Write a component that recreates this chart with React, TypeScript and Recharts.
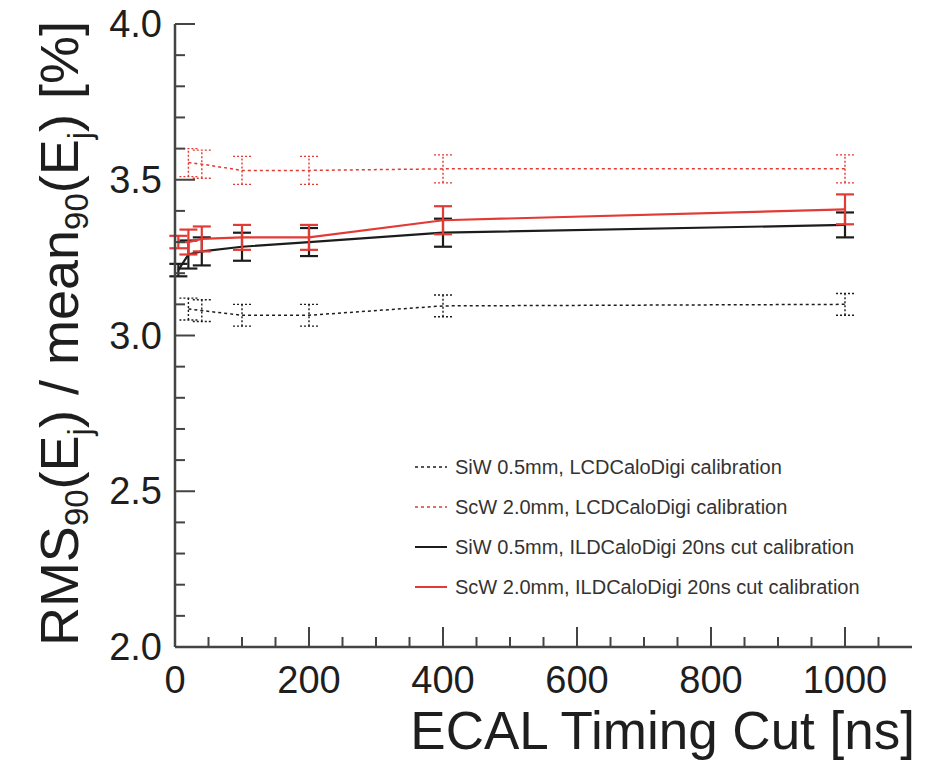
import React from "react";
import { LineChart, Line, XAxis, YAxis, ErrorBar, Legend, Label } from "recharts";

// timing cuts [ns]
const lcdCuts = [20, 40, 100, 200, 400, 1000];
const ildCuts = [5, 20, 40, 100, 200, 400, 1000];

// RMS90 / mean90 [%]
const siwLcd = [3.085, 3.08, 3.065, 3.065, 3.095, 3.1];
const siwLcdErr = [0.035, 0.035, 0.035, 0.035, 0.035, 0.035];
const scwLcd = [3.555, 3.55, 3.53, 3.53, 3.535, 3.535];
const scwLcdErr = [0.045, 0.045, 0.045, 0.045, 0.045, 0.045];
const siwIld = [3.21, 3.26, 3.27, 3.285, 3.3, 3.33, 3.355];
const siwIldErr = [0.02, 0.045, 0.045, 0.045, 0.045, 0.045, 0.04];
const scwIld = [3.3, 3.3, 3.31, 3.315, 3.315, 3.37, 3.405];
const scwIldErr = [0.02, 0.04, 0.04, 0.04, 0.04, 0.045, 0.048];

const xMajorTicks = [0, 200, 400, 600, 800, 1000];
const yMajorTicks = [2.0, 2.5, 3.0, 3.5, 4.0];

const seriesNames = [
  "SiW 0.5mm, LCDCaloDigi calibration",
  "ScW 2.0mm, LCDCaloDigi calibration",
  "SiW 0.5mm, ILDCaloDigi 20ns cut calibration",
  "ScW 2.0mm, ILDCaloDigi 20ns cut calibration",
];

const FONT = "'Liberation Sans', Arial, Helvetica, sans-serif";
const AXIS = "#444";
const TEXT = "#1e1e1e";
const BLACK = "#1c1c1c";
const RED = "#e23a35";

const toRows = (xs: number[], ys: number[], es: number[]) =>
  xs.map((x, i) => ({ x, y: ys[i], err: es[i] }));

const siwLcdData = toRows(lcdCuts, siwLcd, siwLcdErr);
const scwLcdData = toRows(lcdCuts, scwLcd, scwLcdErr);
const siwIldData = toRows(ildCuts, siwIld, siwIldErr);
const scwIldData = toRows(ildCuts, scwIld, scwIldErr);

const styles = [
  { color: BLACK, dash: "3 3", width: 1.5 },
  { color: RED, dash: "3 3", width: 1.5 },
  { color: BLACK, dash: undefined, width: 2.2 },
  { color: RED, dash: undefined, width: 2.2 },
];

const xTicks: number[] = [];
for (let v = 0; v <= 1050; v += 50) xTicks.push(v);
const yTicks: number[] = [];
for (let i = 20; i <= 40; i++) yTicks.push(i / 10);

const isYMajor = (v: number) => yMajorTicks.some((t) => Math.abs(t - v) < 1e-6);

const BottomTick = (props: any) => {
  const { x, y, payload } = props;
  const v = payload.value;
  const major = xMajorTicks.includes(v);
  return (
    <g>
      <line x1={x} x2={x} y1={y} y2={y - (major ? 20 : 10)} stroke={AXIS} strokeWidth={2} />
      {major && (
        <text x={x} y={y + 46} textAnchor="middle" fontSize={38} fontFamily={FONT} fill={TEXT}>
          {v}
        </text>
      )}
    </g>
  );
};

const TopTick = (props: any) => {
  const { x, y, payload } = props;
  const major = xMajorTicks.includes(payload.value);
  return <line x1={x} x2={x} y1={y} y2={y + (major ? 18 : 9)} stroke={AXIS} strokeWidth={2} />;
};

const LeftTick = (props: any) => {
  const { x, y, payload } = props;
  const v = payload.value;
  const major = isYMajor(v);
  return (
    <g>
      <line x1={x} x2={x + (major ? 20 : 10)} y1={y} y2={y} stroke={AXIS} strokeWidth={2} />
      {major && (
        <text x={x - 13} y={y + 13} textAnchor="end" fontSize={38} fontFamily={FONT} fill={TEXT}>
          {v.toFixed(1)}
        </text>
      )}
    </g>
  );
};

const RightTick = (props: any) => {
  const { x, y, payload } = props;
  const major = isYMajor(payload.value);
  return <line x1={x} x2={x - (major ? 20 : 10)} y1={y} y2={y} stroke={AXIS} strokeWidth={2} />;
};

const YTitle = (props: any) => {
  const vb = props.viewBox || { y: 24, height: 623 };
  const cy = vb.y + vb.height / 2 - 2;
  return (
    <text
      transform={`translate(78, ${cy}) rotate(-90)`}
      textAnchor="middle"
      fontSize={54}
      fontFamily={FONT}
      fill={TEXT}
    >
      RMS
      <tspan fontSize={33} dy={10}>90</tspan>
      <tspan dy={-10}>(E</tspan>
      <tspan fontSize={33} dy={13}>j</tspan>
      <tspan dy={-13}>) / mean</tspan>
      <tspan fontSize={33} dy={10}>90</tspan>
      <tspan dy={-10}>(E</tspan>
      <tspan fontSize={33} dy={13}>j</tspan>
      <tspan dy={-13}>) [%]</tspan>
    </text>
  );
};

const XTitle = (props: any) => {
  const vb = props.viewBox || { x: 175, y: 647, width: 737 };
  return (
    <text x={vb.x + vb.width + 3} y={vb.y + 102} textAnchor="end" fontSize={53} fontFamily={FONT} fill={TEXT}>
      ECAL Timing Cut [ns]
    </text>
  );
};

const LegendBox = () => (
  <div style={{ fontFamily: FONT, fontSize: 20, color: "#333" }}>
    {seriesNames.map((name, i) => (
      <div key={name} style={{ display: "flex", alignItems: "center", height: 40 }}>
        <svg width={40} height={10}>
          <line
            x1={0}
            x2={32}
            y1={5}
            y2={5}
            stroke={styles[i].color}
            strokeWidth={styles[i].dash ? 1.5 : 2}
            strokeDasharray={styles[i].dash}
          />
        </svg>
        <span style={{ whiteSpace: "nowrap" }}>{name}</span>
      </div>
    ))}
  </div>
);

const seriesData = [siwLcdData, scwLcdData, siwIldData, scwIldData];

export default function App() {
  return (
    <div style={{ position: "absolute", left: 0, top: 0, background: "#fff" }}>
      <LineChart width={925} height={764} margin={{ top: 24, right: 13, bottom: 0, left: 0 }}>
        <XAxis
          xAxisId="b"
          type="number"
          dataKey="x"
          domain={[0, 1100]}
          ticks={xTicks}
          interval={0}
          height={117}
          tickSize={0}
          tickMargin={0}
          tickLine={false}
          tick={<BottomTick />}
          axisLine={{ stroke: AXIS, strokeWidth: 2.5 }}
          allowDataOverflow
        >
          <Label content={<XTitle />} />
        </XAxis>
        <XAxis
          xAxisId="t"
          orientation="top"
          type="number"
          dataKey="x"
          domain={[0, 1100]}
          ticks={xTicks}
          interval={0}
          height={0}
          tickSize={0}
          tickMargin={0}
          tickLine={false}
          tick={<TopTick />}
          axisLine={{ stroke: AXIS, strokeWidth: 2.5 }}
          allowDataOverflow
        />
        <YAxis
          yAxisId="l"
          type="number"
          domain={[2, 4]}
          ticks={yTicks}
          interval={0}
          width={175}
          tickSize={0}
          tickMargin={0}
          tickLine={false}
          tick={<LeftTick />}
          axisLine={{ stroke: AXIS, strokeWidth: 2.5 }}
          allowDataOverflow
        >
          <Label content={<YTitle />} />
        </YAxis>
        <YAxis
          yAxisId="r"
          orientation="right"
          type="number"
          domain={[2, 4]}
          ticks={yTicks}
          interval={0}
          width={0}
          tickSize={0}
          tickMargin={0}
          tickLine={false}
          tick={<RightTick />}
          axisLine={{ stroke: AXIS, strokeWidth: 2.5 }}
          allowDataOverflow
        />
        {seriesData.map((d, i) => (
          <Line
            key={seriesNames[i]}
            name={seriesNames[i]}
            data={d}
            xAxisId="b"
            yAxisId="l"
            dataKey="y"
            type="linear"
            stroke={styles[i].color}
            strokeWidth={styles[i].width}
            strokeDasharray={styles[i].dash}
            dot={false}
            activeDot={false}
            isAnimationActive={false}
          >
            <ErrorBar
              dataKey="err"
              direction="y"
              width={9}
              stroke={styles[i].color}
              strokeWidth={styles[i].dash ? 1.4 : 2.2}
              strokeDasharray={styles[i].dash ? "2 2" : undefined}
              isAnimationActive={false}
            />
          </Line>
        ))}
        <Legend
          content={<LegendBox />}
          layout="horizontal"
          verticalAlign="middle"
          align="center"
          wrapperStyle={{ left: 415, top: 447, width: 500, height: 162 }}
        />
      </LineChart>
    </div>
  );
}
